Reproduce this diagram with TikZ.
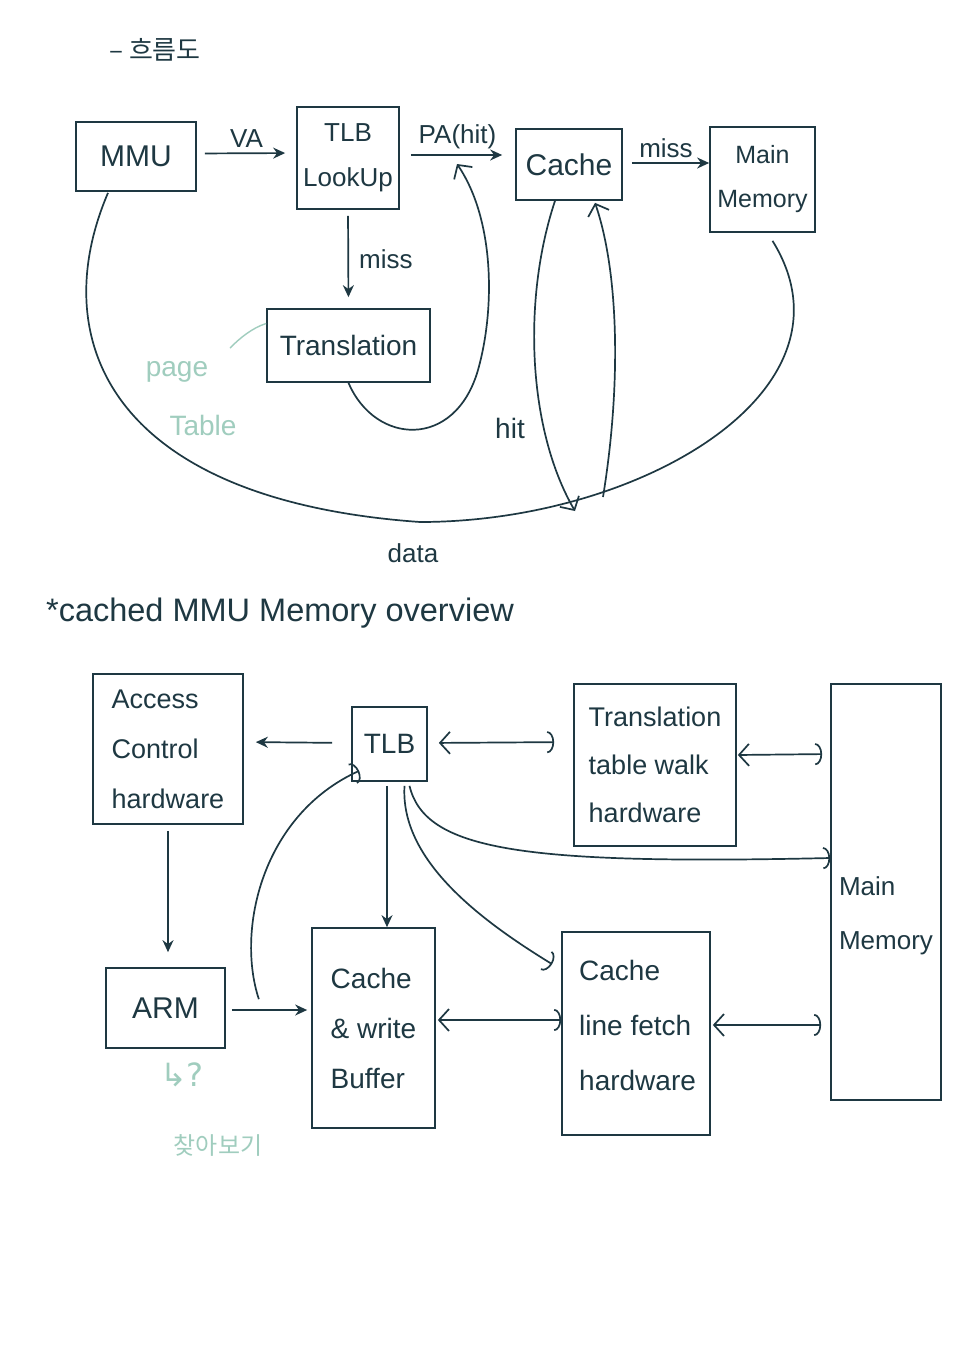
\documentclass[tikz,border=0pt]{standalone}
\usepackage{fontspec}
\setmainfont{Liberation Sans}
\newfontfamily\krfont{Noto Sans CJK KR}
\newfontfamily\dvsfont{DejaVu Sans}
\usetikzlibrary{arrows.meta,calc}
\definecolor{ink}{RGB}{30,56,66}
\definecolor{mint}{RGB}{160,205,190}
\begin{document}
\begin{tikzpicture}[x=1pt,y=-1pt,
  box/.style={draw=ink,line width=1.7pt,inner sep=0pt,text=ink,font=\fontsize{26}{48}\selectfont},
  lbl/.style={text=ink,inner sep=0pt,font=\fontsize{26}{30}\selectfont},
  note/.style={text=mint,inner sep=0pt,font=\fontsize{28}{30}\selectfont},
  ln/.style={draw=ink,line width=1.7pt},
  sarr/.style={ln,-{Stealth[length=12pt,width=11pt]}},
  barb/.style={ln,-{Straight Barb[length=10pt,width=22pt]}},
  abarb/.style={ln,-{Arc Barb[length=7pt,width=22pt]}},
  dbl/.style={ln,{Straight Barb[length=10pt,width=22pt]}-{Arc Barb[length=7pt,width=22pt]}},
]
\fill[white] (0,0) rectangle (960,1357);
\useasboundingbox (0,0) rectangle (960,1357);

% ---------- top: flow chart ----------
\node[lbl,font=\krfont\fontsize{26}{30}\selectfont] (title1) at (155,50) {– 흐름도};

\node[box,minimum width=120,minimum height=69,font=\fontsize{30}{34}\selectfont] (mmu) at (136,156.5) {MMU};
\node[box,minimum width=102,minimum height=102,align=center,font=\fontsize{26}{45}\selectfont] (tlb) at (348,158) {TLB\\LookUp};
\node[box,minimum width=106,minimum height=71,font=\fontsize{30}{34}\selectfont] (cache) at (569,164.5) {Cache};
\node[box,minimum width=105,minimum height=105,align=center,font=\fontsize{25}{44}\selectfont] (mm) at (762.5,179.5) {Main\\Memory};
\node[box,minimum width=163,minimum height=73,font=\fontsize{28}{34}\selectfont] (trans) at (348.5,345.5) {Translation};

\draw[sarr,shorten <=8pt,shorten >=11pt] ($(mmu.east)+(0,-3)$) -- ($(tlb.west)+(0,-5)$)
  node[lbl,midway,above=5pt] (va) {VA};
\draw[sarr,shorten <=11pt,shorten >=13pt] ($(tlb.east)+(0,-3)$) -- ($(cache.west)+(0,-9.5)$)
  node[lbl,midway,above=5pt] (pa) {PA(hit)};
\draw[sarr,shorten <=9pt] ($(cache.east)+(0,-1.5)$) -- ($(mm.west)+(0,-16.5)$)
  node[lbl,midway,above=4pt] (miss1) {miss};
\draw[sarr,shorten <=6pt,shorten >=11pt] (tlb.south) -- (trans.north)
  node[lbl,midway,right=10pt] (miss2) {miss};

\coordinate (pahit) at (457,164);
\draw[barb] (trans.south) .. controls (375,445) and (455,450) .. (478,370)
  .. controls (495,310) and (495,220) .. (pahit);

\draw[ln] ($(mmu.south)+(-28,1)$) .. controls (45,340) and (110,500) .. (420,522)
  .. controls (640,522) and (865,390) .. ($(mm.south)+(10,8)$);
\node[lbl] (data) at (413,553) {data};

\coordinate (hitend) at (575,511);
\draw[barb] ($(cache.south)+(-14,0)$) .. controls (522,300) and (528,430) .. (hitend);
\node[lbl,font=\fontsize{28}{30}\selectfont] (hit) at (510,428) {hit};
\coordinate (upstart) at (603,497);
\draw[barb] (upstart) .. controls (622,380) and (618,270) .. ($(cache.south)+(26,2)$);

\coordinate (ptend) at (230,348);
\draw[mint,line width=1.4pt] ($(trans.west)+(0,-22)$) .. controls (252,328) and (240,338) .. (ptend);
\node[note] (page) at (177,372) {page};
\node[note] (table) at (203,425) {Table};

% ---------- bottom: cached MMU memory overview ----------
\node[lbl,font=\fontsize{32.5}{36}\selectfont] (title2) at (280,613) {*cached MMU Memory overview};

\node[box,minimum width=150,minimum height=150,align=left,font=\fontsize{27}{50}\selectfont] (acc) at (168,749) {Access\\Control\\hardware};
\node[box,minimum width=75,minimum height=74,font=\fontsize{28}{30}\selectfont] (tlbb) at (389.5,744) {TLB};
\node[box,minimum width=162,minimum height=162,align=left,font=\fontsize{27}{48}\selectfont] (ttw) at (655,765) {Translation\\table walk\\hardware};
\node[box,minimum width=110,minimum height=416] (mm2) at (886,892) {};
\node[lbl,align=left,font=\fontsize{26}{54}\selectfont] (mm2t) at (886,916) {Main\\Memory};
\node[box,minimum width=119,minimum height=80,font=\fontsize{30}{34}\selectfont] (arm) at (165.5,1008) {ARM};
\node[box,minimum width=123,minimum height=200,align=left,font=\fontsize{28}{50}\selectfont] (cwb) at (373.5,1028) {Cache\\\& write\\Buffer};
\node[box,minimum width=148,minimum height=203] (clf) at (636,1033.5) {};
\node[lbl,anchor=west,align=left,font=\fontsize{28}{55}\selectfont] (clft) at (579,1025) {Cache\\line fetch\\hardware};

\draw[sarr,shorten <=19pt,shorten >=12pt] ($(tlbb.west)+(0,-1)$) -- ($(acc.east)+(0,-7)$);
\draw[dbl,shorten <=11pt,shorten >=19pt] ($(tlbb.east)+(0,-1)$) -- ($(ttw.west)+(0,-23)$);
\draw[dbl,shorten <=1pt,shorten >=8pt] ($(ttw.east)+(0,-10)$) -- ($(mm2.west)+(0,-138)$);
\draw[sarr,shorten <=6pt,shorten >=15pt] (acc.south) -- (acc.south |- arm.north);
\draw[sarr,shorten <=6pt,shorten >=4pt] ($(arm.east)+(0,2)$) -- ($(cwb.west)+(0,-18)$);
\draw[dbl,shorten <=2pt] ($(cwb.east)+(0,-8)$) -- ($(clf.west)+(0,-13.5)$);
\draw[dbl,shorten <=2pt,shorten >=9pt] ($(clf.east)+(0,-8.5)$) -- ($(mm2.west)+(0,133)$);
\draw[sarr,shorten <=4pt] ($(tlbb.south)+(-2.5,0)$) -- ($(cwb.north)+(13.5,0)$);
\draw[abarb] ($(tlbb.south)+(20,4)$) .. controls (425,850) and (520,865) .. ($(mm2.west)+(0,-34)$);
\draw[abarb] ($(tlbb.south)+(15,4)$) .. controls (400,860) and (480,920) .. ($(clf.north west)+(-9,33)$);
\draw[abarb] ($(arm.north east)+(33,32)$) .. controls (236,930) and (262,815) .. ($(tlbb.south west)+(8,-11)$);

\node[note,font=\dvsfont\fontsize{32}{34}\selectfont] (hook) at (182,1075) {↳?};
\node[note,font=\krfont\fontsize{24}{26}\selectfont] (lookup) at (218,1145) {찾아보기};
\end{tikzpicture}
\end{document}
